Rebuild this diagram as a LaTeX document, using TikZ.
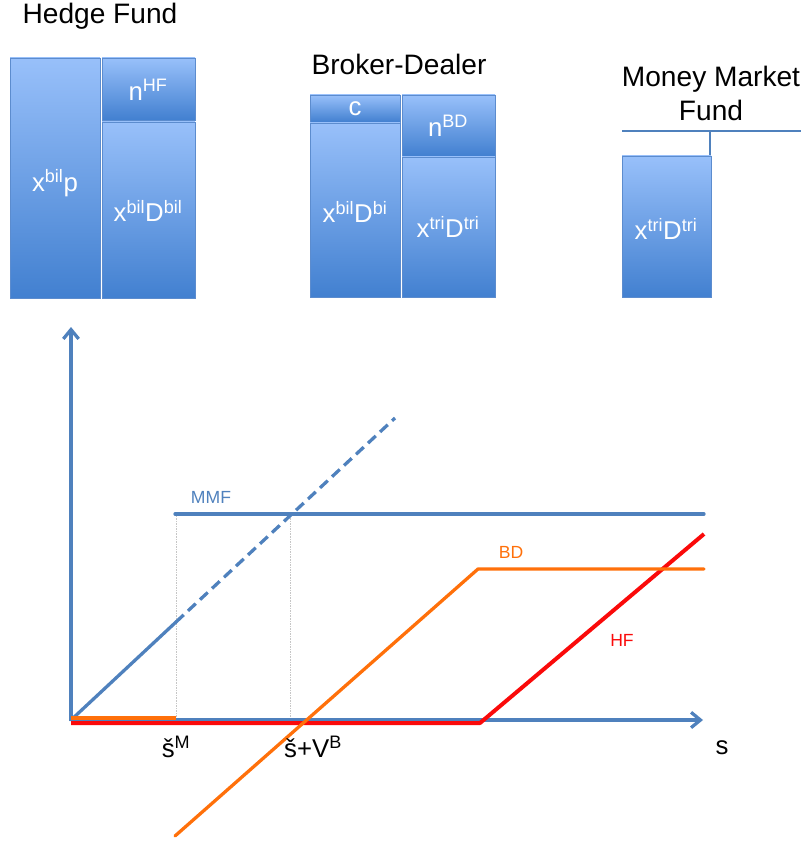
\documentclass[tikz,border=0pt]{standalone}
\usepackage{fontspec}
\setmainfont{Liberation Sans}
\usetikzlibrary{arrows.meta,positioning,shadows}
\definecolor{acctTop}{RGB}{152,192,250}
\definecolor{acctBot}{RGB}{66,128,208}
\definecolor{acctEdge}{RGB}{92,140,206}
\definecolor{axBlue}{RGB}{79,129,189}
\definecolor{bdOrange}{RGB}{255,112,10}
\definecolor{hfRed}{RGB}{250,10,10}
\tikzset{
  acct/.style={draw=acctEdge, line width=0.6pt, top color=acctTop, bottom color=acctBot,
    drop shadow={shadow xshift=0.7pt, shadow yshift=-1.2pt, opacity=0.3}},
  accttxt/.style={text=white, font=\fontsize{22}{26}\selectfont, inner sep=0pt},
  ttl/.style={font=\fontsize{24}{29}\selectfont, align=center, inner sep=0pt},
  axisln/.style={-{Straight Barb[length=2.8mm,width=4.6mm]}, line width=2.8pt, axBlue},
  payln/.style={line width=2.8pt, line cap=round, line join=round},
  guideln/.style={densely dotted, line width=0.4pt, gray!45},
  curvetxt/.style={font=\fontsize{15}{18}\selectfont, inner sep=0pt},
  ticktxt/.style={font=\fontsize{22}{26}\selectfont, inner sep=0pt},
}

\begin{document}
\begin{tikzpicture}[x=0.03cm, y=-0.03cm]
    \useasboundingbox (0,0) rectangle (801,848);
    % balance sheets
    \node[ttl] (hftitle) at (100,16) {Hedge Fund};
    \path[acct] (10,58) rectangle (100,298);
    \path[acct] (102,58) rectangle (195,120);
    \path[acct] (102,122) rectangle (195,298);
    \node[accttxt] (hfasset) at (55,183) {x\textsuperscript{bil}p};
    \node[accttxt] (hfeq) at (148,90) {n\textsuperscript{HF}};
    \node[accttxt] (hfdebt) at (148,211) {x\textsuperscript{bil}D\textsuperscript{bil}};

    \node[ttl] (bdtitle) at (399,64) {Broker-Dealer};
    \path[acct] (310,95) rectangle (400,122);
    \path[acct] (310,123) rectangle (400,297);
    \path[acct] (402,95) rectangle (495,156);
    \path[acct] (402,157) rectangle (495,297);
    \node[accttxt] (bdcash) at (355,109) {c};
    \node[accttxt] (bdasset) at (355,212) {x\textsuperscript{bil}D\textsuperscript{bi}};
    \node[accttxt] (bdeq) at (448,126) {n\textsuperscript{BD}};
    \node[accttxt] (bddebt) at (448,227) {x\textsuperscript{tri}D\textsuperscript{tri}};

    \node[ttl] (mmftitle) at (711,93) {Money Market\\Fund};
    \draw[axBlue, line width=2.4pt] (622,131) -- (801,131);
    \draw[axBlue, line width=2.4pt] (710,131) -- (710,156);
    \path[acct] (622,156) rectangle (711,297);
    \node[accttxt] (mmfasset) at (666,229) {x\textsuperscript{tri}D\textsuperscript{tri}};

    % payoff chart
    \coordinate (O) at (71,720);
    \coordinate (sM) at (176,720);
    \coordinate (sV) at (290,720);
    \draw[guideln] (sM) -- (176,514);
    \draw[guideln] (sV) -- (290,514);
    \draw[payln, axBlue] (175,514) -- (704,514);
    \draw[payln, axBlue] (O) -- (176,622);
    \draw[payln, axBlue, dash pattern=on 9pt off 5pt, line cap=butt] (176,622) -- (395,418);
    \draw[axisln] (71,721) -- (71,327);
    \draw[axisln] (71,720) -- (703,720);
    \draw[payln, hfRed, line width=3.4pt, line cap=butt] (71,723) -- (480,723) -- (704,534);
    \draw[payln, bdOrange, line cap=butt] (71,718) -- (176,718);
    \draw[payln, bdOrange] (175,836) -- (478,569) -- (704,569);
    \node[curvetxt, text=axBlue] (mmflab) at (211,497) {MMF};
    \node[curvetxt, text=bdOrange] (bdlab) at (511,552) {BD};
    \node[curvetxt, text=hfRed] (hflab) at (622,640) {HF};
    \node[ticktxt] (sMlab) at (176,747) {š\textsuperscript{M}};
    \node[ticktxt] (sVlab) at (313,747) {š+V\textsuperscript{B}};
    \node[ticktxt] (slab) at (722,748) {s};
\end{tikzpicture}
\end{document}
